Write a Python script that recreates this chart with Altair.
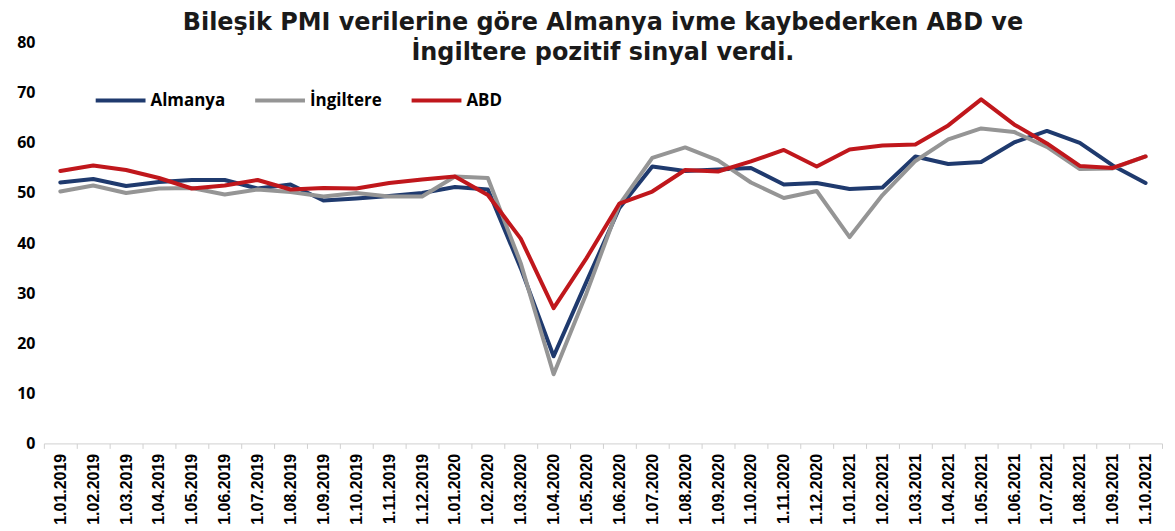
import altair as alt
import pandas as pd

dates = [
    "1.01.2019", "1.02.2019", "1.03.2019", "1.04.2019", "1.05.2019", "1.06.2019",
    "1.07.2019", "1.08.2019", "1.09.2019", "1.10.2019", "1.11.2019", "1.12.2019",
    "1.01.2020", "1.02.2020", "1.03.2020", "1.04.2020", "1.05.2020", "1.06.2020",
    "1.07.2020", "1.08.2020", "1.09.2020", "1.10.2020", "1.11.2020", "1.12.2020",
    "1.01.2021", "1.02.2021", "1.03.2021", "1.04.2021", "1.05.2021", "1.06.2021",
    "1.07.2021", "1.08.2021", "1.09.2021", "1.10.2021",
]

almanya = [52.1, 52.8, 51.4, 52.2, 52.6, 52.6, 50.9, 51.7, 48.5, 48.9, 49.4, 50.0,
           51.2, 50.7, 35.0, 17.4, 32.3, 47.0, 55.3, 54.4, 54.7, 55.0, 51.7, 52.0,
           50.8, 51.1, 57.3, 55.8, 56.2, 60.1, 62.4, 60.0, 55.5, 52.0]

ingiltere = [50.3, 51.5, 50.0, 50.9, 51.0, 49.7, 50.7, 50.2, 49.3, 50.0, 49.3, 49.3,
             53.3, 53.0, 36.0, 13.8, 30.0, 47.7, 57.0, 59.1, 56.5, 52.1, 49.0, 50.4,
             41.2, 49.6, 56.4, 60.7, 62.9, 62.2, 59.2, 54.8, 54.9, 57.3]

abd = [54.4, 55.5, 54.6, 53.0, 50.9, 51.5, 52.6, 50.7, 51.0, 50.9, 52.0, 52.7,
       53.3, 49.6, 40.9, 27.0, 37.0, 47.9, 50.3, 54.6, 54.3, 56.3, 58.6, 55.3,
       58.7, 59.5, 59.7, 63.5, 68.7, 63.7, 59.9, 55.4, 55.0, 57.3]

series_names = ["Almanya", "İngiltere", "ABD"]
series_colors = ["#1F3A6E", "#959595", "#C0171C"]
y_ticks = [0, 10, 20, 30, 40, 50, 60, 70, 80]
title_lines = ["Bileşik PMI verilerine göre Almanya ivme kaybederken ABD ve",
               "İngiltere pozitif sinyal verdi."]

rows = []
for name, vals in zip(series_names, [almanya, ingiltere, abd]):
    for d, v in zip(dates, vals):
        rows.append({"date": d, "series": name, "value": v})
df = pd.DataFrame(rows)

chart = alt.Chart(df).mark_line(
    strokeWidth=4, strokeJoin="round", strokeCap="round"
).encode(
    x=alt.X(
        "date:N", sort=dates,
        scale=alt.Scale(type="band", paddingInner=0, paddingOuter=0),
        axis=alt.Axis(
            title=None, labelAngle=270, labelFont="Liberation Sans",
            labelFontWeight="bold", labelFontSize=16, labelColor="#000000",
            domainColor="#d0d0d0", tickColor="#d0d0d0", tickSize=5,
            tickBand="extent", labelPadding=5, grid=False,
        ),
    ),
    y=alt.Y(
        "value:Q",
        scale=alt.Scale(domain=[0, 80]),
        axis=alt.Axis(
            title=None, values=y_ticks, grid=False, domain=False, ticks=False,
            labelPadding=9, labelFont="Open Sans", labelFontSize=16,
            labelFontWeight="bold", labelColor="#000000",
        ),
    ),
    color=alt.Color(
        "series:N",
        scale=alt.Scale(domain=series_names, range=series_colors),
        legend=alt.Legend(
            title=None, orient="none", legendX=50, legendY=31,
            direction="horizontal", symbolType="stroke", symbolSize=2500,
            symbolStrokeWidth=4, labelFont="Open Sans", labelFontSize=17,
            labelFontWeight="bold", labelColor="#000000", labelOffset=3,
            columnPadding=22,
        ),
    ),
).properties(
    width=1122,
    height=402,
    autosize=alt.AutoSizeParams(type="none"),
    padding={"left": 36, "top": 34, "right": 5, "bottom": 85},
    title=alt.TitleParams(
        title_lines, font="DejaVu Sans", fontSize=24, fontWeight="bold",
        anchor="middle", offset=-30, color="#1a1a1a", lineHeight=30,
    ),
).configure_view(stroke=None)

chart.save("out.html", embed_options={"renderer": "svg", "actions": False})
